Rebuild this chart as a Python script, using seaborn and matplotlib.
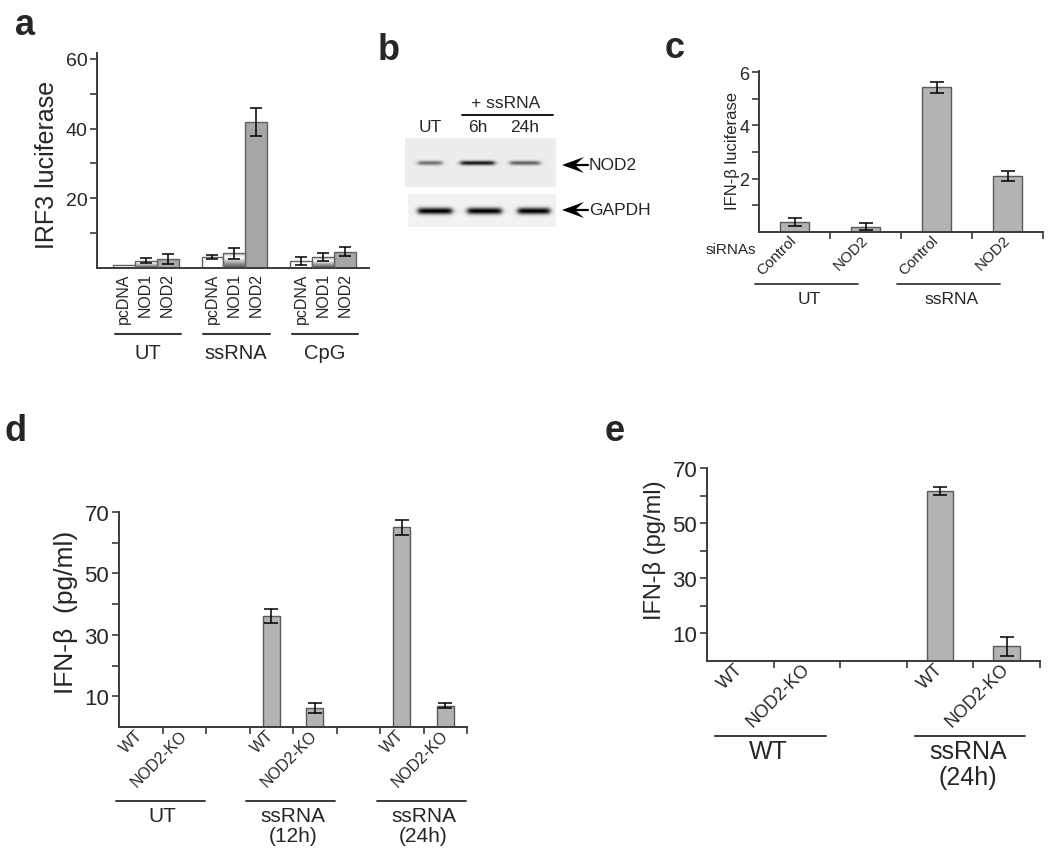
import numpy as np
import pandas as pd
import matplotlib
matplotlib.use("Agg")
import matplotlib.pyplot as plt
import seaborn as sns
from matplotlib import transforms
from matplotlib.ticker import FixedLocator
from matplotlib.patches import Polygon
from matplotlib.colors import LinearSegmentedColormap

# ---------------- data ----------------
# panel a : IRF3 luciferase
a_groups = ["UT", "ssRNA", "CpG"]
a_constructs = ["pcDNA", "NOD1", "NOD2"]
a_pcdna = [1.0, 3.1, 2.1]
a_nod1 = [2.1, 4.2, 3.1]
a_nod2 = [2.6, 41.9, 4.7]
a_pcdna_err = [0.0, 0.6, 1.2]
a_nod1_err = [0.7, 1.5, 1.2]
a_nod2_err = [1.4, 3.9, 1.3]

# panel b : western blot (relative band intensities)
b_lanes = ["UT", "6h", "24h"]
b_nod2_band = [0.50, 0.85, 0.55]
b_gapdh_band = [0.95, 0.95, 0.95]

# panel c : IFN-beta luciferase
c_treatment = ["UT", "UT", "ssRNA", "ssRNA"]
c_sirna = ["Control", "NOD2", "Control", "NOD2"]
c_values = [0.39, 0.19, 5.43, 2.09]
c_err = [0.15, 0.13, 0.20, 0.18]

# panel d : IFN-beta ELISA
d_treatment = ["UT", "UT", "ssRNA\n(12h)", "ssRNA\n(12h)", "ssRNA\n(24h)", "ssRNA\n(24h)"]
d_genotype = ["WT", "NOD2-KO", "WT", "NOD2-KO", "WT", "NOD2-KO"]
d_values = [0, 0, 36.1, 6.1, 65.0, 7.0]
d_err = [0, 0, 2.2, 1.7, 2.4, 0.7]

# panel e : IFN-beta ELISA
e_treatment = ["WT", "WT", "ssRNA\n(24h)", "ssRNA\n(24h)"]
e_genotype = ["WT", "NOD2-KO", "WT", "NOD2-KO"]
e_values = [0, 0, 61.7, 5.2]
e_err = [0, 0, 1.5, 3.5]

# ---------------- style ----------------
sns.set_style("ticks")
plt.rcParams["font.family"] = ["Liberation Sans", "DejaVu Sans"]

W, H = 1050, 853
fig = plt.figure(figsize=(W / 100, H / 100), dpi=100)
AX = "#3a3a3a"
BAR = "#b3b3b3"
EDGE = "#5a5a5a"


def fx(px):
    return px / W


def fy(py):
    return 1 - py / H


def add_ax(l, t, r, b):
    return fig.add_axes([fx(l), fy(b), (r - l) / W, (b - t) / H])


def style(ax, tick_fs):
    sns.despine(ax=ax)
    for s in ("left", "bottom"):
        ax.spines[s].set_color(AX)
        ax.spines[s].set_linewidth(1.4)
    ax.tick_params(axis="both", which="both", direction="out", color=AX,
                   width=1.2, length=5, labelsize=tick_fs, pad=2)
    ax.set_xlabel("")


def ylabel(ax, text, fs, cx, cy):
    ax.set_ylabel(text, fontsize=fs)
    ax.yaxis.set_label_coords(fx(cx), fy(cy), transform=fig.transFigure)
    ax.yaxis.label.set_va("center")
    ax.yaxis.label.set_ha("center")


def diag_labels(ax, positions, labels, fs, dx_pt):
    ax.set_xticks(positions)
    ax.set_xticklabels(labels, fontsize=fs)
    off = transforms.ScaledTranslation(dx_pt / 72, 0, fig.dpi_scale_trans)
    for lbl in ax.get_xticklabels():
        lbl.set_rotation(45)
        lbl.set_rotation_mode("anchor")
        lbl.set_ha("right")
        lbl.set_va("center")
        lbl.set_transform(lbl.get_transform() + off)
    ax.tick_params(axis="x", which="major", length=0, pad=4)


def slot_order(treatments, genotypes):
    order = []
    uniq = list(dict.fromkeys(treatments))
    for gi, t in enumerate(uniq):
        for tt, g in zip(treatments, genotypes):
            if tt == t:
                order.append(f"{tt}|{g}")
        if gi < len(uniq) - 1:
            order.append(f"gap{gi}")
    keys = [f"{t}|{g}" for t, g in zip(treatments, genotypes)]
    return order, keys, uniq


# ======================= panel a =======================
ax_a = add_ax(97, 54, 369, 269)
rows = []
for gi, g in enumerate(a_groups):
    for c, vals in zip(a_constructs, [a_pcdna, a_nod1, a_nod2]):
        rows.append({"group": g, "construct": c, "value": vals[gi]})
df_a = pd.DataFrame(rows)
sns.barplot(data=df_a, x="group", y="value", hue="construct", order=a_groups,
            hue_order=a_constructs,
            palette={"pcDNA": "#ffffff", "NOD1": "#d9d9d9", "NOD2": "#a6a6a6"},
            width=0.74, errorbar=None, saturation=1, edgecolor="#626262",
            linewidth=1.0, legend=False, ax=ax_a)
bar_conts = list(ax_a.containers)

grad_cmap = LinearSegmentedColormap.from_list(
    "grad", [(0, "#c2c2c2"), (0.3, "#ffffff"), (1, "#4a4a4a")])
grad = np.linspace(0, 1, 64).reshape(-1, 1)
for bar in bar_conts[1]:
    x0, w, h = bar.get_x(), bar.get_width(), bar.get_height()
    bar.set_facecolor("none")
    bar.set_zorder(3)
    im = ax_a.imshow(grad, cmap=grad_cmap, extent=[x0, x0 + w, 0, h],
                     aspect="auto", origin="upper", zorder=2)
    im.set_clip_path(bar)

err_map = dict(zip(a_constructs, [a_pcdna_err, a_nod1_err, a_nod2_err]))
centers, labels = [], []
for hi, cont in enumerate(bar_conts):
    c = a_constructs[hi]
    for bar in cont:
        cx = bar.get_x() + bar.get_width() / 2
        gi = int(round(cx))
        centers.append(cx)
        labels.append(c)
        e = err_map[c][gi]
        if e > 0:
            ax_a.errorbar(cx, bar.get_height(), yerr=e, fmt="none", ecolor="black",
                          elinewidth=1.1, capsize=4.5, capthick=1.1, zorder=5)
srt = np.argsort(centers)
style(ax_a, 14)
ax_a.set_xticks([centers[i] for i in srt])
ax_a.set_xticklabels([labels[i] for i in srt], rotation=90, fontsize=11.5)
ax_a.tick_params(axis="x", which="major", length=0, pad=3)
ax_a.set_xlim(-0.55, 2.52)
ax_a.set_ylim(0, 61.7)
ax_a.set_yticks([20, 40, 60])
ax_a.yaxis.set_minor_locator(FixedLocator([10, 30, 50]))
ylabel(ax_a, "IRF3 luciferase", 18, 47, 165)
tr_a = transforms.blended_transform_factory(ax_a.transData, fig.transFigure)
for gi, g in enumerate(a_groups):
    ax_a.plot([gi - 0.35, gi + 0.40], [fy(335)] * 2, transform=tr_a,
              clip_on=False, color=AX, lw=1.5)
    ax_a.text(gi + 0.02, fy(354), g, transform=tr_a, ha="center",
              va="center", fontsize=14.5)

# ======================= panel b =======================
ax_b = add_ax(370, 60, 650, 245)
ax_b.axis("off")


def blot(ax, x0, x1, y0, y1, lane0, step, intens, half_w, thick, band_y, bg):
    xs = np.linspace(x0, x1, int(x1 - x0) * 3)
    ys = np.linspace(y0, y1, int(y1 - y0) * 3)
    X, Y = np.meshgrid(xs, ys)
    dark = np.full_like(X, bg)
    for i, (I, hw) in enumerate(zip(intens, half_w)):
        cx = lane0 + i * step
        px = 1 / (1 + np.exp((np.abs(X - cx) - hw) / 1.5))
        py = np.exp(-((Y - band_y) / thick) ** 2)
        dark += I * px * py
    img = 1 - np.clip(dark, 0, 1)
    ax.imshow(img, cmap="gray", vmin=0, vmax=1, extent=[x0, x1, y1, y0],
              origin="upper", aspect="auto", interpolation="bilinear")


blot(ax_b, 405, 556, 139, 188, 430, 47.5, b_nod2_band, [12, 17, 15], 2.2, 164, 0.07)
blot(ax_b, 408, 556, 195, 228, 435, 49.5, b_gapdh_band, [17, 17, 16], 3.3, 212, 0.05)
ax_b.set_xlim(370, 650)
ax_b.set_ylim(245, 60)
for i, lane in enumerate(b_lanes):
    ax_b.text(430 + 47.5 * i, 128, lane, ha="center", va="center", fontsize=12.5)
ax_b.text(506, 104, "+ ssRNA", ha="center", va="center", fontsize=12.5)
ax_b.plot([462, 553], [116, 116], color="black", lw=1.3)
for yv, name in [(166, "NOD2"), (211, "GAPDH")]:
    ax_b.add_patch(Polygon([(562, yv), (584, yv - 8), (575, yv), (584, yv + 8)],
                           closed=True, color="black", lw=0))
    ax_b.plot([575, 588], [yv, yv], color="black", lw=1.6)
    ax_b.text(589, yv, name, ha="left", va="center", fontsize=12.5)

# ======================= panel c =======================
ax_c = add_ax(759, 72, 1043, 233)
c_keys = [f"{t}|{s}" for t, s in zip(c_treatment, c_sirna)]
df_c = pd.DataFrame({"key": c_keys, "value": c_values})
sns.barplot(data=df_c, x="key", y="value", order=c_keys, color=BAR, saturation=1,
            width=0.4, edgecolor=EDGE, linewidth=1.0, errorbar=None, ax=ax_c)
ax_c.errorbar(range(len(c_keys)), c_values, yerr=c_err, fmt="none", ecolor="black",
              elinewidth=1.1, capsize=5, capthick=1.1, zorder=5)
style(ax_c, 13)
ax_c.set_xlim(-0.5, 3.5)
ax_c.set_ylim(0, 6.04)
ax_c.set_yticks([2, 4, 6])
ax_c.yaxis.set_minor_locator(FixedLocator([1, 3, 5]))
ax_c.xaxis.set_minor_locator(FixedLocator([0.5, 1.5, 2.5, 3.5]))
diag_labels(ax_c, range(len(c_keys)), c_sirna, 11, 3)
ylabel(ax_c, "IFN-\u03b2 luciferase", 12, 733, 151)
fig.text(fx(756), fy(250), "siRNAs", ha="right", va="center", fontsize=11)
tr_c = transforms.blended_transform_factory(ax_c.transData, fig.transFigure)
for t in dict.fromkeys(c_treatment):
    g0 = c_treatment.index(t)
    ax_c.plot([g0 - 0.56, g0 + 0.89], [fy(285)] * 2, transform=tr_c,
              clip_on=False, color=AX, lw=1.3)
    ax_c.text(g0 + 0.21, fy(300), t, transform=tr_c, ha="center", va="center",
              fontsize=12.5)


# ======================= panels d, e =======================
def elisa(ax, treatments, genotypes, values, errs, ylim, tick_fs, lab_fs, dx,
          line_y, text_y, line_ext, text_off, grp_fs, lw_line, cap, lsp):
    order, keys, uniq = slot_order(treatments, genotypes)
    df = pd.DataFrame({"key": keys, "value": values})
    sns.barplot(data=df, x="key", y="value", order=order, color=BAR, saturation=1,
                width=0.4, edgecolor=EDGE, linewidth=1.0, errorbar=None, ax=ax)
    pos = [order.index(k) for k in keys]
    for p, v, e in zip(pos, values, errs):
        if e > 0:
            ax.errorbar(p, v, yerr=e, fmt="none", ecolor="black", elinewidth=1.1,
                        capsize=cap, capthick=1.1, zorder=5)
    style(ax, tick_fs)
    ax.set_xlim(-0.5, len(order) - 0.5)
    ax.set_ylim(0, ylim)
    ax.set_yticks([10, 30, 50, 70])
    ax.yaxis.set_minor_locator(FixedLocator([20, 40, 60]))
    ax.xaxis.set_minor_locator(FixedLocator(np.arange(0.5, len(order), 1.0)))
    diag_labels(ax, pos, genotypes, lab_fs, dx)
    tr = transforms.blended_transform_factory(ax.transData, fig.transFigure)
    for t in uniq:
        g0 = order.index(keys[treatments.index(t)])
        ax.plot([g0 + line_ext[0], g0 + line_ext[1]], [fy(line_y)] * 2, transform=tr,
                clip_on=False, color=AX, lw=lw_line)
        ax.text(g0 + text_off, fy(text_y), t, transform=tr, ha="center", va="top",
                fontsize=grp_fs, linespacing=lsp)


ax_d = add_ax(119, 513, 467, 728)
elisa(ax_d, d_treatment, d_genotype, d_values, d_err, 70, 16, 11.5, 3,
      802, 807, (-0.58, 1.47), 0.5, 15, 1.4, 5, 1.1)
ylabel(ax_d, "IFN-\u03b2  (pg/ml)", 19, 66, 612)

ax_e = add_ax(707, 469, 1040, 661.5)
elisa(ax_e, e_treatment, e_genotype, e_values, e_err, 70, 16, 13, 3,
      737, 740, (-0.38, 1.28), 0.42, 18, 1.4, 5, 1.1)
ylabel(ax_e, "IFN-\u03b2 (pg/ml)", 17, 655, 550)

# panel letters
for letter, (px, py) in {"a": (15, 35), "b": (378, 60), "c": (665, 58),
                         "d": (4, 441), "e": (605, 441)}.items():
    fig.text(fx(px), fy(py), letter, fontsize=26, fontweight="bold",
             ha="left", va="baseline")

fig.savefig("out.png", dpi=100, facecolor="white")
